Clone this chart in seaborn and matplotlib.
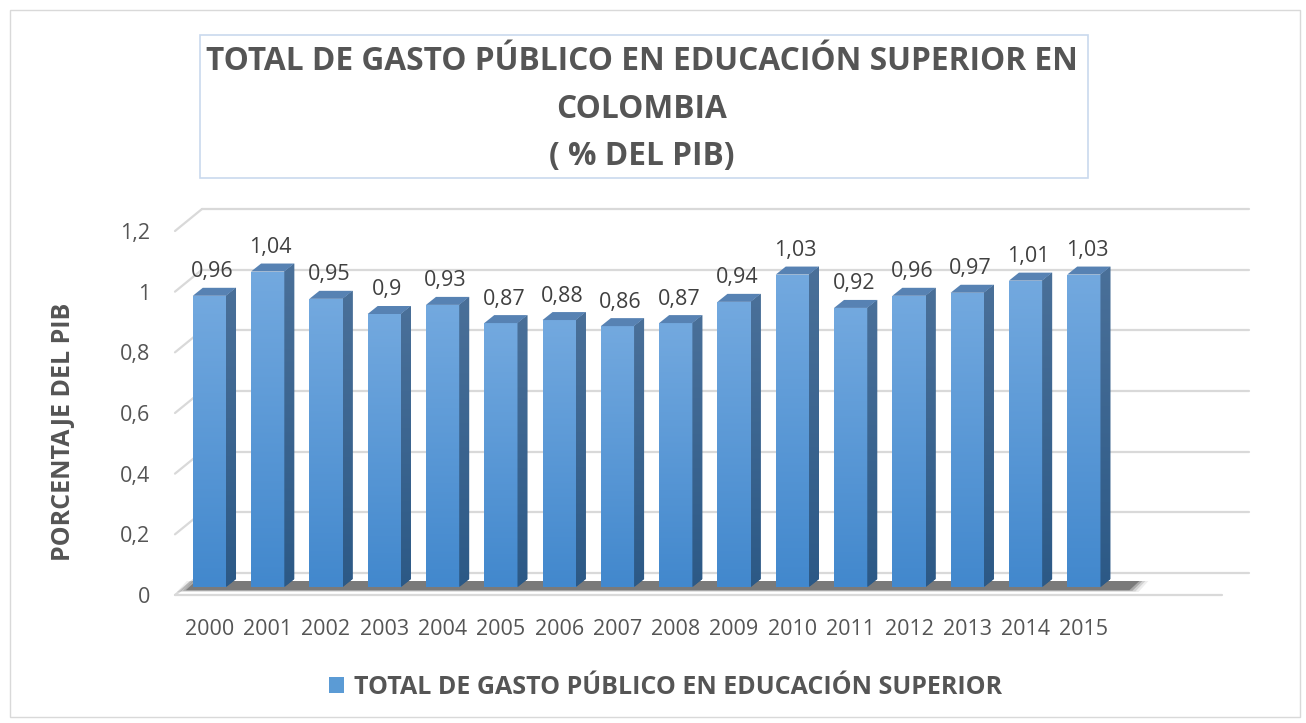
import numpy as np
import pandas as pd
import matplotlib
matplotlib.use("Agg")
import matplotlib.pyplot as plt
import matplotlib.transforms as mtransforms
from matplotlib.colors import LinearSegmentedColormap
from matplotlib.patches import Polygon, Rectangle, Patch
import seaborn as sns

# %%
# data
years = ["2000", "2001", "2002", "2003", "2004", "2005", "2006", "2007",
         "2008", "2009", "2010", "2011", "2012", "2013", "2014", "2015"]
gasto = [0.96, 1.04, 0.95, 0.9, 0.93, 0.87, 0.88, 0.86,
         0.87, 0.94, 1.03, 0.92, 0.96, 0.97, 1.01, 1.03]
y_ticks = [0, 0.2, 0.4, 0.6, 0.8, 1.0, 1.2]
y_tick_labels = ["0", "0,2", "0,4", "0,6", "0,8", "1", "1,2"]
serie = "TOTAL DE GASTO PÚBLICO EN EDUCACIÓN SUPERIOR"
title_lines = ["TOTAL DE GASTO PÚBLICO EN EDUCACIÓN SUPERIOR EN", "COLOMBIA", "( % DEL PIB)"]
y_label = "PORCENTAJE DEL PIB"

df = pd.DataFrame({"anio": years, "gasto": gasto})

# colours
front_light, front_dark = "#73a9df", "#4288cd"
side_light, side_dark = "#4a7099", "#2c5986"
top_col = "#5782b3"
grid_col = "#d9d9d9"
text_col = "#555555"

# %%
sns.set_theme(style="white")
plt.rcParams["font.family"] = ["Open Sans", "DejaVu Sans"]

W, H = 1306, 723
fig = plt.figure(figsize=(W / 100, H / 100), dpi=100)
fig.patch.set_facecolor("white")
ax = fig.add_axes([175 / W, (H - 595) / H, (1222 - 175) / W, (595 - 231) / H])

sns.barplot(data=df, x="anio", y="gasto", color=front_dark, width=0.57,
            saturation=1, ax=ax, zorder=3)
ax.set_xlim(-0.59, 17.37)
ax.set_ylim(0, 1.2)
ax.autoscale(False)
for s in ax.spines.values():
    s.set_visible(False)
ax.grid(False)
ax.set_xlabel("")
ax.set_ylabel("")

def shifted(dx, dy):
    return mtransforms.offset_copy(ax.transData, fig=fig, x=dx, y=dy, units="dots")

def px(x, y, dx=0, dy=0):
    X, Y = ax.transData.transform((x, y))
    return X + dx, Y + dy

ident = mtransforms.IdentityTransform()
back_dx, back_dy = 27, 22
bar_dy = 8
side_dx, side_dy = 10, 8

# back wall gridlines + left wall diagonals
x_lo, x_hi = ax.get_xlim()
for t in y_ticks:
    ax.plot([x_lo, x_hi], [t, t], color=grid_col, lw=1.6, transform=shifted(back_dx, back_dy),
            zorder=1, clip_on=False)
    p0 = px(x_lo, t)
    p1 = px(x_lo, t, back_dx, back_dy)
    ax.plot([p0[0], p1[0]], [p0[1], p1[1]], color=grid_col, lw=1.6, transform=ident,
            zorder=1, clip_on=False)
ax.plot([x_lo, x_hi], [0, 0], color=grid_col, lw=1.6, zorder=1, clip_on=False)

# floor shadow under the bars
bars = list(ax.patches)
xl = bars[0].get_x()
xr = bars[-1].get_x() + bars[-1].get_width()
for k, a in enumerate([0.08, 0.14, 0.24, 0.38]):
    grow = 10 - 3 * k
    l0 = px(xl, 0, -6 - grow, bar_dy - 3 - grow * 0.2)
    r0 = px(xr, 0, 28 + grow, bar_dy - 3 - grow * 0.2)
    r1 = px(xr, 0, 28 + side_dx + grow, bar_dy + side_dy - 2)
    l1 = px(xl, 0, side_dx - 6 - grow, bar_dy + side_dy - 2)
    ax.add_patch(Polygon([l0, r0, r1, l1], closed=True, transform=ident,
                         facecolor="#2e2e2e", edgecolor="none", alpha=a, zorder=2))

front_cmap = LinearSegmentedColormap.from_list("front", [front_dark, front_light])
side_cmap = LinearSegmentedColormap.from_list("side", [side_dark, side_light])
grad = np.linspace(1, 0, 128).reshape(-1, 1)

for p, v in zip(bars, gasto):
    x0, w, h = p.get_x(), p.get_width(), p.get_height()
    p.set_transform(shifted(0, bar_dy))
    p.set_edgecolor("none")
    im = ax.imshow(grad, extent=(x0, x0 + w, 0, h), transform=shifted(0, bar_dy),
                   cmap=front_cmap, vmin=0, vmax=1, aspect="auto", zorder=3.1)
    im.set_clip_path(p)
    # side face
    s_pts = [px(x0 + w, 0, 0, bar_dy), px(x0 + w, h, 0, bar_dy),
             px(x0 + w, h, side_dx, bar_dy + side_dy), px(x0 + w, 0, side_dx, bar_dy + side_dy)]
    side = Polygon(s_pts, closed=True, transform=ident, facecolor=side_dark, edgecolor="none", zorder=3)
    ax.add_patch(side)
    xs = [q[0] for q in s_pts]
    ys = [q[1] for q in s_pts]
    im2 = ax.imshow(grad, extent=(min(xs), max(xs), min(ys), max(ys)), transform=ident,
                    cmap=side_cmap, vmin=0, vmax=1, aspect="auto", zorder=3.1)
    im2.set_clip_path(side)
    # top face
    t_pts = [px(x0, h, 0, bar_dy), px(x0 + w, h, 0, bar_dy),
             px(x0 + w, h, side_dx, bar_dy + side_dy), px(x0, h, side_dx, bar_dy + side_dy)]
    ax.add_patch(Polygon(t_pts, closed=True, transform=ident, facecolor=top_col, edgecolor="none", zorder=3.2))
    # data label
    ax.text(p.get_x() + w / 2, h, f"{v:g}".replace(".", ","), transform=shifted(3, 32),
            ha="center", va="center", fontsize=15.5, color="#404040", zorder=4, clip_on=False)

ax.set_xlim(x_lo, x_hi)
ax.set_ylim(0, 1.2)
ax.set_yticks(y_ticks, y_tick_labels)
ax.tick_params(axis="y", length=0, pad=18, labelsize=15.5, labelcolor=text_col)
ax.tick_params(axis="x", length=0, pad=17, labelsize=15.5, labelcolor=text_col)

# y label
fig.text(63 / W, (H - 432) / H, y_label, rotation=90, ha="center", va="center",
         fontsize=18, fontweight="bold", color=text_col)

# title box + title
fig.patches.append(Rectangle((200 / W, (H - 178) / H), 888 / W, 143 / H, transform=fig.transFigure,
                             facecolor="white", edgecolor="#c9d9ee", lw=1.2, zorder=0))
for txt, yy in zip(title_lines, [62, 110, 156]):
    fig.text(642 / W, (H - yy) / H, txt, ha="center", va="center",
             fontsize=22.8, fontweight="bold", color=text_col)

# legend
leg = ax.legend(handles=[Patch(facecolor="#5b9bd5", edgecolor="none")], labels=[serie],
                loc="center", bbox_to_anchor=(666 / W, (H - 687) / H), bbox_transform=fig.transFigure,
                frameon=False, handlelength=0.6, handleheight=0.6, handletextpad=0.4,
                prop={"size": 18, "weight": "bold"})
for t in leg.get_texts():
    t.set_color(text_col)

# outer chart border
fig.patches.append(Rectangle((10 / W, 6 / H), (W - 16) / W, (H - 16) / H, transform=fig.transFigure,
                             facecolor="none", edgecolor="#d9d9d9", lw=1, zorder=0))

fig.savefig("out.png", dpi=100)
